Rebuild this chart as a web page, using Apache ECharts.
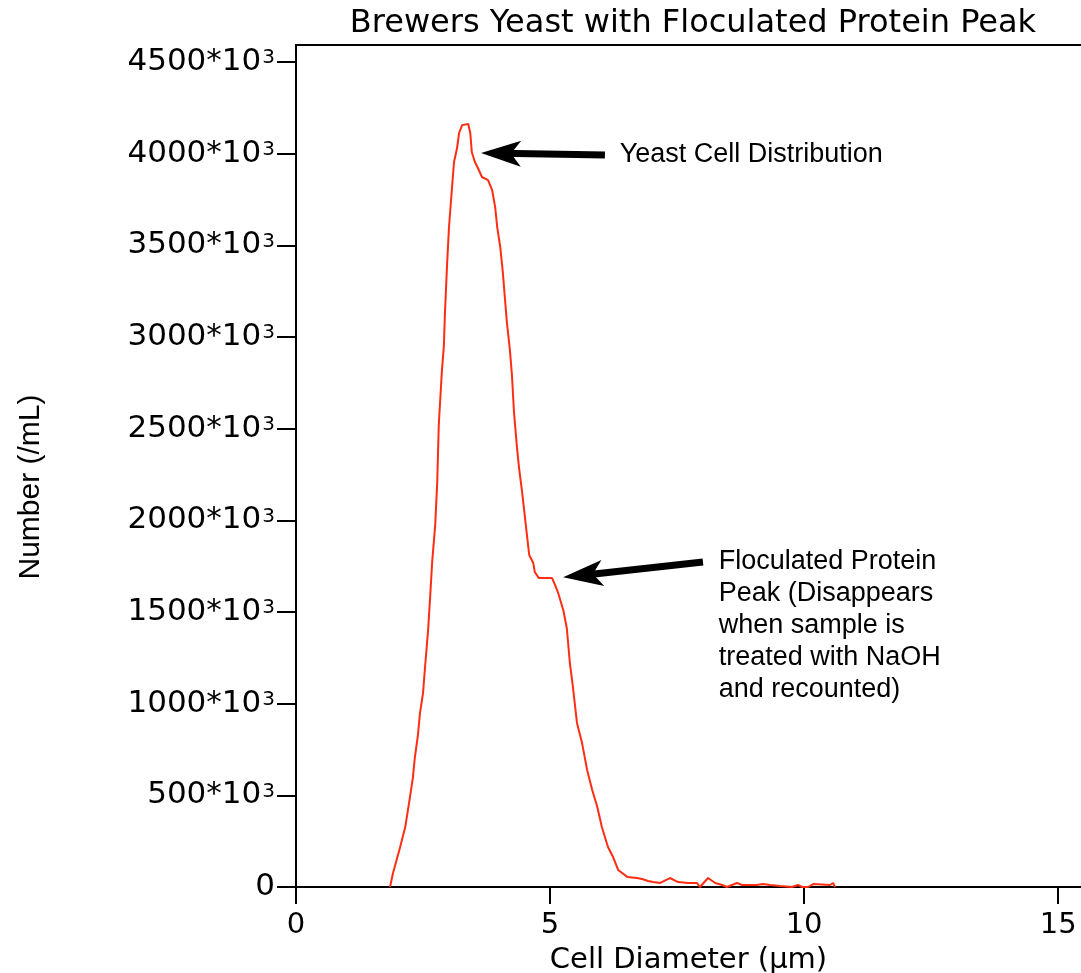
<!DOCTYPE html>
<html>
<head>
<meta charset="utf-8">
<title>Brewers Yeast with Floculated Protein Peak</title>
<script src="https://cdn.jsdelivr.net/npm/echarts@6/dist/echarts.min.js"></script>
<style>
	html, body { margin: 0; padding: 0; background: #fff; }
	#chart { width: 1081px; height: 973px; }
</style>
</head>
<body>
<div id="chart"></div>
<script>
var titleText = "Brewers Yeast with Floculated Protein Peak",
	xName = "Cell Diameter (\u03bcm)",
	yName = "Number (/mL)";

// cell diameter (um)
var diameter = [1.85, 1.91, 2.05, 2.15, 2.24, 2.30, 2.34, 2.40, 2.44, 2.50,
	2.54, 2.60, 2.64, 2.68, 2.74, 2.78, 2.81, 2.87, 2.91, 2.93,
	2.97, 3.01, 3.07, 3.11, 3.17, 3.21, 3.27, 3.39, 3.43, 3.46,
	3.52, 3.58, 3.66, 3.78, 3.86, 3.92, 3.96, 4.02, 4.07, 4.11,
	4.15, 4.21, 4.25, 4.29, 4.35, 4.39, 4.45, 4.49, 4.55, 4.59,
	4.67, 4.70, 4.78, 5.04, 5.10, 5.16, 5.26, 5.33, 5.39, 5.45,
	5.53, 5.63, 5.73, 5.83, 5.93, 6.02, 6.14, 6.24, 6.34, 6.52,
	6.71, 6.81, 6.93, 7.03, 7.17, 7.36, 7.52, 7.72, 7.89, 7.95,
	8.11, 8.25, 8.39, 8.48, 8.68, 8.78, 8.94, 9.07, 9.19, 9.33,
	9.53, 9.76, 9.88, 9.96, 10.08, 10.18, 10.51, 10.57, 10.61];

// number per mL, in units of 10^3
var number = [0, 76, 218, 327, 485, 595, 709, 829, 949, 1058,
	1200, 1402, 1582, 1773, 1975, 2209, 2520, 2809, 2950, 3120,
	3376, 3595, 3813, 3955, 4031, 4113, 4156, 4162, 4113, 4009,
	3955, 3922, 3873, 3856, 3802, 3709, 3600, 3491, 3355, 3218,
	3082, 2929, 2793, 2591, 2395, 2285, 2155, 2056, 1909, 1811,
	1767, 1718, 1685, 1685, 1647, 1604, 1511, 1413, 1222, 1091,
	895, 785, 638, 529, 436, 327, 218, 164, 93, 55,
	49, 44, 33, 27, 22, 49, 27, 22, 22, 0,
	49, 22, 11, 0, 22, 11, 11, 11, 16, 11,
	5, 0, 11, 0, 0, 16, 11, 22, 0];

var xTicks = [0, 5, 10, 15],
	yTicks = [0, 500, 1000, 1500, 2000, 2500, 3000, 3500, 4000, 4500];

// annotations: arrow tail / arrow end, and the notes
var arrowFrom = [[6.08, 3993], [8.01, 1773]],
	arrowTo = [[4.035, 4002], [5.648, 1701]],
	noteText = ["Yeast Cell Distribution",
		"Floculated Protein\nPeak (Disappears\nwhen sample is\ntreated with NaOH\nand recounted)"],
	noteAt = [[6.36, 3998], [8.31, 1426]];

var Chart = function() {
	var buildPoints = function() {
		var pts = [];
		for (var i = 0; i < diameter.length; i++) {
			pts.push([diameter[i], number[i]]);
		}
		return pts;
	};

	var buildArrows = function() {
		var res = [];
		for (var i = 0; i < arrowFrom.length; i++) {
			res.push([{ coord: arrowFrom[i] }, { coord: arrowTo[i] }]);
		}
		return res;
	};

	var buildNotes = function() {
		var res = [];
		for (var i = 0; i < noteText.length; i++) {
			res.push({ name: noteText[i], coord: noteAt[i] });
		}
		return res;
	};

	var init = function() {
		var chart = echarts.init(document.getElementById('chart'));
		var black = '#000';
		var option = {
			animation: false,
			backgroundColor: '#fff',
			graphic: [{
				type: 'text',
				x: 693,
				y: 24,
				style: {
					text: titleText,
					fill: black,
					fontSize: 32,
					fontFamily: 'DejaVu Sans',
					align: 'center',
					verticalAlign: 'middle'
				}
			}],
			grid: { left: 296, top: 45, right: 0, bottom: 86, outerBoundsMode: 'none', containLabel: false },
			xAxis: [{
				type: 'value',
				min: 0,
				max: 15.45,
				position: 'bottom',
				name: xName,
				nameLocation: 'middle',
				nameGap: 59,
				nameTextStyle: { fontFamily: 'DejaVu Sans', fontSize: 29, color: black },
				axisLine: { show: true, onZero: false, lineStyle: { color: black, width: 2 } },
				axisTick: { show: true, length: 17, customValues: xTicks, lineStyle: { color: black, width: 2 } },
				axisLabel: { customValues: xTicks, margin: 24, fontFamily: 'DejaVu Sans', fontSize: 29, color: black },
				splitLine: { show: false }
			}, {
				type: 'value',
				min: 0,
				max: 15.45,
				position: 'top',
				axisLine: { show: true, onZero: false, lineStyle: { color: black, width: 2 } },
				axisTick: { show: false },
				axisLabel: { show: false },
				splitLine: { show: false }
			}],
			yAxis: {
				type: 'value',
				min: 0,
				max: 4593,
				name: yName,
				nameLocation: 'middle',
				nameGap: 250,
				nameTextStyle: { fontFamily: 'Liberation Sans', fontSize: 30, color: black, padding: [0, 42, 0, 0] },
				axisLine: { show: true, onZero: false, lineStyle: { color: black, width: 2 } },
				axisTick: { show: true, length: 19, customValues: yTicks, lineStyle: { color: black, width: 2 } },
				axisLabel: {
					customValues: yTicks,
					margin: 21,
					formatter: function(v) {
						if (v === 0) {
							return '{a|0}';
						}
						return '{a|' + v + '*10}{s|3}';
					},
					rich: {
						a: { fontFamily: 'DejaVu Sans', fontSize: 31, color: black, lineHeight: 34 },
						s: { fontFamily: 'DejaVu Sans', fontSize: 20, color: black, verticalAlign: 'top', padding: [3, 0, 0, 1] }
					}
				},
				splitLine: { show: false }
			},
			series: [{
				type: 'line',
				xAxisIndex: 0,
				data: buildPoints(),
				showSymbol: false,
				symbol: 'none',
				silent: true,
				lineStyle: { color: '#ff2d12', width: 2 },
				markLine: {
					silent: true,
					symbol: ['none', 'path://M13,0L26,40L13,30L0,40Z'],
					symbolSize: 40,
					symbolKeepAspect: true,
					label: { show: false },
					lineStyle: { color: black, width: 7, type: 'solid' },
					emphasis: { disabled: true },
					data: buildArrows()
				},
				markPoint: {
					silent: true,
					symbol: 'circle',
					symbolSize: 1,
					itemStyle: { color: 'rgba(0,0,0,0)' },
					label: {
						show: true,
						position: 'right',
						distance: 0,
						formatter: '{b}',
						fontFamily: 'Liberation Sans',
						fontSize: 27,
						lineHeight: 32,
						color: black
					},
					data: buildNotes()
				}
			}]
		};
		chart.setOption(option);
	};

	return {
		init: function() {
			init();
		}
	};
}();

Chart.init();
</script>
</body>
</html>
